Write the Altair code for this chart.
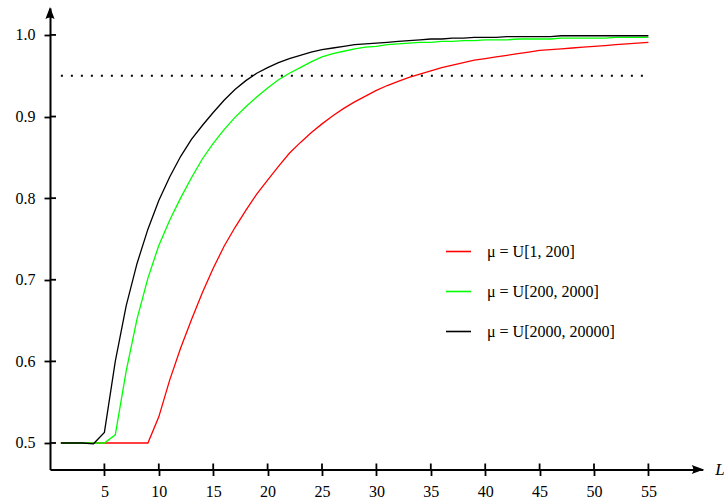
import altair as alt
import pandas as pd

# ---------------- data ----------------
x_vals = list(range(1, 56))

red_vals = [0.5, 0.5, 0.5, 0.5, 0.5, 0.5, 0.5, 0.5, 0.5, 0.532,
            0.577, 0.616, 0.651, 0.684, 0.714, 0.741, 0.764, 0.785, 0.805, 0.822,
            0.839, 0.855, 0.868, 0.880, 0.891, 0.901, 0.910, 0.918, 0.925, 0.932,
            0.938, 0.943, 0.948, 0.952, 0.956, 0.960, 0.963, 0.966, 0.969, 0.971,
            0.973, 0.975, 0.977, 0.979, 0.981, 0.982, 0.983, 0.984, 0.985, 0.986,
            0.987, 0.988, 0.989, 0.990, 0.991]

green_vals = [0.5, 0.5, 0.5, 0.5, 0.5, 0.51, 0.588, 0.652, 0.702, 0.742,
              0.773, 0.800, 0.825, 0.848, 0.867, 0.884, 0.899, 0.912, 0.924, 0.935,
              0.945, 0.953, 0.960, 0.967, 0.973, 0.977, 0.980, 0.983, 0.985, 0.986,
              0.988, 0.989, 0.990, 0.991, 0.991, 0.992, 0.992, 0.993, 0.993, 0.994,
              0.994, 0.994, 0.995, 0.995, 0.995, 0.995, 0.996, 0.996, 0.996, 0.996,
              0.996, 0.997, 0.997, 0.997, 0.997]

black_vals = [0.5, 0.5, 0.5, 0.499, 0.513, 0.600, 0.668, 0.720, 0.762, 0.797,
              0.826, 0.851, 0.872, 0.889, 0.905, 0.920, 0.933, 0.944, 0.953, 0.960,
              0.966, 0.971, 0.975, 0.979, 0.982, 0.984, 0.986, 0.988, 0.989, 0.990,
              0.991, 0.992, 0.993, 0.994, 0.995, 0.995, 0.996, 0.996, 0.997, 0.997,
              0.997, 0.998, 0.998, 0.998, 0.998, 0.998, 0.999, 0.999, 0.999, 0.999,
              0.999, 0.999, 0.999, 0.999, 0.999]

series_names = ["μ = U[1, 200]", "μ = U[200, 2000]", "μ = U[2000, 20000]"]
series_colors = ["#ff0000", "#00ff00", "#000000"]

x_ticks = [5, 10, 15, 20, 25, 30, 35, 40, 45, 50, 55]
y_ticks = [0.5, 0.6, 0.7, 0.8, 0.9, 1.0]
threshold = 0.95
threshold_span = [1, 55]
x_domain = [0, 60]
y_domain = [0.4675, 1.033]
x_title = "L"

# ---------------- tables ----------------
rows = []
for name, vals in zip(series_names, [red_vals, green_vals, black_vals]):
    for xv, yv in zip(x_vals, vals):
        rows.append({"x": xv, "y": yv, "series": name})
df = pd.DataFrame(rows)

W, H = 652.8, 461.5
FONT = "Liberation Serif"

xs = alt.Scale(domain=x_domain, nice=False, zero=False)
ys = alt.Scale(domain=y_domain, nice=False, zero=False)

x_axis = alt.Axis(values=x_ticks, grid=False, domainColor="black", domainWidth=2,
                  tickColor="black", tickWidth=1.8, tickSize=6, labelFont=FONT,
                  labelFontSize=16, labelColor="black", labelPadding=8,
                  title=x_title, titleFont=FONT, titleFontStyle="italic",
                  titleFontWeight="normal", titleFontSize=17, titleColor="black",
                  titleX=W + 12, titleY=0, titleAlign="left", titleBaseline="middle",
                  titleAngle=0)
y_axis = alt.Axis(values=y_ticks, format=".1f", grid=False, domainColor="black",
                  domainWidth=2, tickColor="black", tickWidth=1.8, tickSize=6,
                  labelFont=FONT, labelFontSize=16, labelColor="black",
                  labelPadding=9, title=None)

lines = alt.Chart(df).mark_line(strokeWidth=1.3).encode(
    x=alt.X("x:Q", scale=xs, axis=x_axis),
    y=alt.Y("y:Q", scale=ys, axis=y_axis),
    color=alt.Color("series:N",
                    scale=alt.Scale(domain=series_names, range=series_colors),
                    legend=alt.Legend(orient="none", legendX=395, legendY=230,
                                      title=None, symbolType="stroke",
                                      symbolSize=625, symbolStrokeWidth=1.6,
                                      labelFont=FONT, labelFontSize=16,
                                      labelColor="black", labelOffset=15,
                                      rowPadding=18, padding=0)),
)

thr_df = pd.DataFrame({"x1": [threshold_span[0]], "x2": [threshold_span[1]],
                       "y": [threshold]})
dotted = alt.Chart(thr_df).mark_rule(strokeDash=[2, 8], strokeWidth=2,
                                     color="black").encode(
    x=alt.X("x1:Q", scale=xs), x2="x2:Q", y=alt.Y("y:Q", scale=ys))

xt_df = pd.DataFrame({"x": x_ticks})
x_inner = alt.Chart(xt_df).mark_rule(color="black", strokeWidth=1.8).encode(
    x=alt.X("x:Q", scale=xs), y=alt.value(H - 6), y2=alt.value(H))
yt_df = pd.DataFrame({"y": y_ticks})
y_inner = alt.Chart(yt_df).mark_rule(color="black", strokeWidth=1.8).encode(
    y=alt.Y("y:Q", scale=ys), x=alt.value(0), x2=alt.value(6))

arrow_x_df = pd.DataFrame({"x": [x_domain[1]], "y": [y_domain[0]]})
arrow_x = alt.Chart(arrow_x_df).mark_point(
    shape="M1,0 L-1,-0.75 Q-0.45,0 -1,0.75 Z", size=150, filled=True,
    color="black", opacity=1, xOffset=-5).encode(
    x=alt.X("x:Q", scale=xs), y=alt.Y("y:Q", scale=ys))
arrow_y_df = pd.DataFrame({"x": [x_domain[0]], "y": [y_domain[1]]})
arrow_y = alt.Chart(arrow_y_df).mark_point(
    shape="M0,-1 L-0.75,1 Q0,0.45 0.75,1 Z", size=150, filled=True,
    color="black", opacity=1, yOffset=5).encode(
    x=alt.X("x:Q", scale=xs), y=alt.Y("y:Q", scale=ys))

chart = alt.layer(dotted, lines, x_inner, y_inner, arrow_x, arrow_y).properties(
    width=W, height=H,
    padding={"left": 50, "top": 8, "right": 724 - 50 - W, "bottom": 500 - 8 - H},
    autosize=alt.AutoSizeParams(type="none"),
).configure_view(stroke=None)

chart.save("out.html", embed_options={"renderer": "svg", "actions": False})
